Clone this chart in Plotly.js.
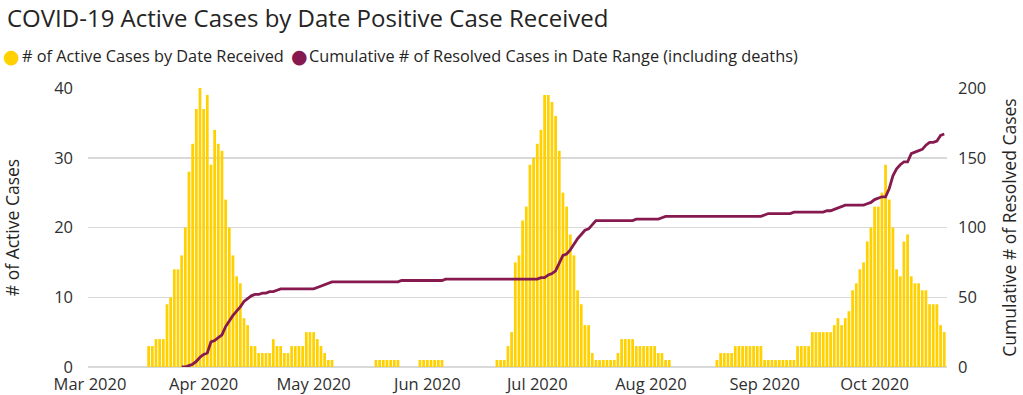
<!DOCTYPE html>
<html>
<head>
<meta charset="utf-8">
<script src="https://cdn.plot.ly/plotly-3.0.1.min.js"></script>
<style>
  html, body { margin: 0; padding: 0; background: #ffffff; }
  #chart { width: 1023px; height: 395px; }
</style>
</head>
<body>
<div id="chart"></div>
<script>
// ---------- data ----------
const activeStartDate = '2020-03-17';   // first day with a bar
const activeCases = [
  3,3,4,4,4,9,10,14,14,16,20,28,32,37,40,
  37,39,29,34,32,31,24,20,16,13,12,7,6,3,3,2,2,2,2,4,
  3,3,2,2,3,3,3,3,5,5,5,4,3,2,1,1,
  0,0,0,0,0,0,0,0,0,0,0,
  1,1,1,1,1,1,1,
  0,0,0,0,0,
  1,1,1,1,1,1,1,
  0,0,0,0,0,0,0,0,0,0,0,0,0,0,
  1,1,1,
  3,
  5,15,16,21,23,29,30,32,34,39,39,38,36,31,25,23,19,16,11,9,6,6,
  2,
  1,1,1,1,1,1,
  2,
  4,4,4,4,
  3,3,3,3,3,3,
  2,2,
  1,1,
  0,0,0,0,0,0,0,0,0,0,0,0,
  1,
  2,2,2,2,
  3,3,3,3,3,3,3,3,
  1,1,1,1,1,1,1,1,1,
  3,3,3,3,
  5,5,5,5,5,5,
  6,7,6,7,8,
  11,12,14,15,18,20,23,23,25,29,24,20,14,13,18,19,13,12,12,11,11,9,9,9,6,5
];

const resolvedStartDate = '2020-03-26';  // first day of the cumulative line
const resolvedCumulative = [
  0,0,1,2,4,7,9,10,18,19,21,23,29,33,37,40,43,47,49,51,52,52,53,53,54,54,
  55,
  56,56,56,56,56,56,56,56,56,56,
  57,58,59,60,61,
  61,61,61,61,61,61,61,61,61,61,61,61,61,61,61,61,61,61,
  62,62,62,62,62,62,62,62,62,62,62,62,
  63,63,63,63,63,63,63,63,63,63,63,63,63,63,63,63,63,63,63,63,63,63,63,63,63,63,
  64,64,66,67,69,75,80,81,84,88,92,95,98,99,102,105,
  105,105,105,105,105,105,105,105,105,105,
  106,106,106,106,106,106,106,
  107,
  108,108,108,108,108,108,108,108,108,108,108,108,108,108,108,108,108,108,108,108,108,108,108,108,108,108,108,
  109,
  110,110,110,110,110,110,110,
  111,111,111,111,111,111,111,111,111,
  112,112,113,114,115,116,
  116,116,116,116,116,
  117,118,120,121,122,122,128,137,142,145,147,147,153,154,155,156,159,161,161,162,166,167
];

const seriesNames = [
  '# of Active Cases by Date Received',
  'Cumulative # of Resolved Cases in Date Range (including deaths)'
];
const chartTitle = 'COVID-19 Active Cases by Date Positive Case Received';
const leftAxisTitle = '# of Active Cases';
const rightAxisTitle = 'Cumulative # of Resolved Cases';

// ---------- helpers ----------
function dailyDates(start, n) {
  const t0 = Date.parse(start + 'T00:00:00Z');
  const out = [];
  for (let i = 0; i < n; i++) out.push(new Date(t0 + i * 86400000).toISOString().slice(0, 10));
  return out;
}

const YELLOW = '#FFD100';
const MAROON = '#861A4F';
const FONT = '"Open Sans", "Noto Sans", sans-serif';
const TXT = '#252423';
const TICK = '#2f2f2f';

const W = 1023, H = 395;
const M = { l: 88, r: 76, t: 88, b: 28 };
const PW = W - M.l - M.r, PH = H - M.t - M.b;
const px2x = px => (px - M.l) / PW;
const py2y = py => (H - M.b - py) / PH;

const traces = [
  {
    type: 'bar',
    name: seriesNames[0],
    x: dailyDates(activeStartDate, activeCases.length),
    y: activeCases,
    marker: { color: YELLOW, line: { width: 0 } },
    yaxis: 'y',
    showlegend: false,
    hoverinfo: 'x+y'
  },
  {
    type: 'scatter',
    mode: 'lines',
    name: seriesNames[1],
    x: dailyDates(resolvedStartDate, resolvedCumulative.length),
    y: resolvedCumulative,
    line: { color: MAROON, width: 2.8 },
    yaxis: 'y2',
    showlegend: false
  }
];

const layout = {
  width: W,
  height: H,
  margin: M,
  paper_bgcolor: '#ffffff',
  plot_bgcolor: '#ffffff',
  font: { family: FONT, color: TXT, size: 16 },
  bargap: 0.25,
  title: {
    text: chartTitle,
    x: 7 / W, xanchor: 'left', xref: 'container',
    y: 1 - 19 / H, yanchor: 'middle', yref: 'container',
    font: { family: FONT, size: 24, color: TXT }
  },
  xaxis: {
    type: 'date',
    range: ['2020-02-29 11:00', '2020-10-20 18:00'],
    tick0: '2020-03-01',
    dtick: 'M1',
    tickformat: '%b %Y',
    showgrid: false,
    zeroline: false,
    showline: false,
    ticks: '',
    ticklabelstandoff: 5,
    tickfont: { family: FONT, size: 16.5, color: TICK }
  },
  yaxis: {
    range: [0, 40],
    tickvals: [0, 10, 20, 30, 40],
    showgrid: true,
    gridcolor: '#d9d9d9',
    gridwidth: 1.5,
    zeroline: true,
    zerolinecolor: '#d9d9d9',
    zerolinewidth: 1.5,
    ticks: '',
    ticklabelstandoff: 14,
    tickfont: { family: FONT, size: 16.5, color: TICK },
    title: { text: leftAxisTitle, standoff: 30, font: { family: FONT, size: 17.5, color: TXT } }
  },
  yaxis2: {
    overlaying: 'y',
    side: 'right',
    range: [0, 200],
    tickvals: [0, 50, 100, 150, 200],
    showgrid: false,
    zeroline: false,
    ticks: '',
    ticklabelstandoff: 10,
    tickfont: { family: FONT, size: 16.5, color: TICK },
    title: { text: rightAxisTitle, standoff: 18, font: { family: FONT, size: 17.5, color: TXT } }
  },
  annotations: [
    { xref: 'paper', yref: 'paper', x: px2x(11.5), y: py2y(56), xanchor: 'center', yanchor: 'middle',
      text: '●', showarrow: false, font: { family: 'DejaVu Sans', size: 19, color: YELLOW } },
    { xref: 'paper', yref: 'paper', x: px2x(20), y: py2y(56), xanchor: 'left', yanchor: 'middle',
      text: seriesNames[0], showarrow: false, font: { family: FONT, size: 16.3, color: TXT } },
    { xref: 'paper', yref: 'paper', x: px2x(299), y: py2y(56), xanchor: 'center', yanchor: 'middle',
      text: '●', showarrow: false, font: { family: 'DejaVu Sans', size: 19, color: MAROON } },
    { xref: 'paper', yref: 'paper', x: px2x(307), y: py2y(56), xanchor: 'left', yanchor: 'middle',
      text: seriesNames[1], showarrow: false, font: { family: FONT, size: 16.3, color: TXT } }
  ]
};

Plotly.newPlot('chart', traces, layout, { displayModeBar: false, staticPlot: true });
</script>
</body>
</html>
